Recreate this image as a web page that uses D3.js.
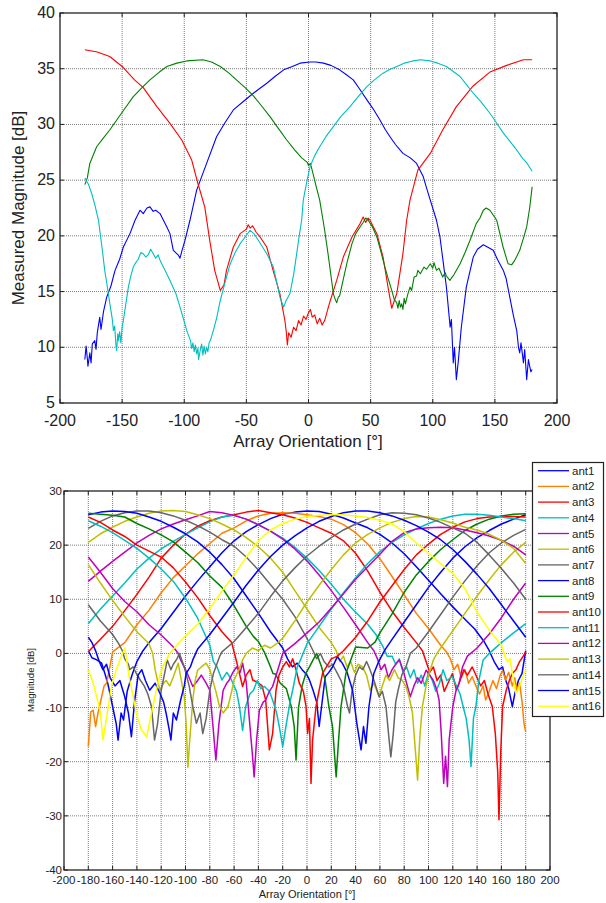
<!DOCTYPE html>
<html><head><meta charset="utf-8">
<script src="https://cdn.jsdelivr.net/npm/d3@7"></script>
<style>body{margin:0;background:#fff;} svg{display:block;font-family:"Liberation Sans",Arial,sans-serif;}</style>
</head><body><svg id="c" width="606" height="903"></svg>
<script>
// ---------- top chart data: [orientation deg, measured dB] ----------
const topXTicks = [-200,-150,-100,-50,0,50,100,150,200];
const topYTicks = [5,10,15,20,25,30,35,40];
const topRed = [[-180,36.7],[-170,36.5],[-160,36.1],[-150,35.2],[-140,34.0],[-133,33.3],[-122,31.6],[-111.5,30.1],[-102,28.6],[-94,26.8],[-89,24.7],[-83.5,22.6],[-79.5,19.6],[-75.5,16.9],[-71,15.1],[-68,15.6],[-66,16.9],[-60.5,19.0],[-55,20.2],[-50,20.6],[-48.5,21.0],[-47,20.7],[-45,20.9],[-42,20.3],[-39,19.9],[-33.6,19.0],[-28.5,16.9],[-23,14.8],[-19,12.4],[-18,11.5],[-17,10.2],[-16,11.3],[-14,10.9],[-12,11.8],[-10,11.5],[-8,12.4],[-6,12.0],[-4,12.8],[-2,12.5],[0,13.1],[1.5,13.4],[3,12.7],[5,12.9],[7,12.1],[9,12.6],[11,12.0],[13,12.4],[17,14.0],[22.7,16.0],[28,18.1],[35,19.9],[41.5,21.1],[44,21.7],[46,21.2],[48,21.6],[49.5,21.4],[55,20.2],[60,18.1],[64,15.4],[67,13.5],[68.5,14.0],[71,14.8],[76,18.4],[79,21.4],[81.7,23.2],[88,25.9],[98,27.4],[108,29.5],[119,31.6],[132,33.4],[146,34.7],[159.5,35.3],[173,35.8],[180,35.8]];
const topGreen = [[-180,24.6],[-178,25.2],[-176,26.5],[-170.5,28],[-165,28.8],[-160,29.5],[-150.5,31],[-141,32.5],[-134,33.3],[-127.6,34],[-120,34.7],[-114,35.2],[-106,35.5],[-98,35.7],[-85,35.8],[-78,35.6],[-71,35.2],[-64,34.6],[-58,34],[-51,33.3],[-44.7,32.6],[-38,31.7],[-31,30.7],[-24,29.6],[-17.5,28.6],[-11,27.7],[-5.5,27],[-1,26.6],[0,26.3],[1.5,26.5],[3.6,25.6],[6,24.5],[9,23.2],[11.7,21.4],[13,20.5],[15.7,18.4],[18,16.5],[20,14.8],[21.5,14.3],[22.7,14.0],[24,14.5],[25,14.6],[27.8,16.0],[31,17.6],[35,19.3],[38,20.2],[41.5,20.8],[44,21.2],[46,21.6],[48,21.4],[51,20.9],[55,19.9],[58,18.7],[61.5,17.2],[64,16.2],[67,15.1],[69,14.3],[71,14.0],[72,13.5],[73,14.2],[74,13.6],[75,13.9],[76,13.4],[77,14.4],[78,13.9],[80,14.8],[81.7,15.4],[83,15.1],[85,16.3],[87,16.4],[88,16.9],[90,16.6],[93,17.2],[95,17.0],[98,17.5],[100,17.1],[101,17.6],[103,16.9],[105,17.1],[108,16.3],[110,16.7],[111,16.4],[113.8,16.0],[115,16.2],[117,16.5],[122,17.5],[126,18.5],[130,19.6],[135,21.1],[138,21.6],[140.7,22.3],[143,22.5],[146,22.3],[151.5,21.4],[156.6,19.0],[160.6,17.5],[163.5,17.4],[166,17.8],[170,18.7],[173,19.8],[175.6,20.8],[178,22.5],[180,24.4]];
const topBlue = [[-180,8.9],[-179,10.1],[-178,9.0],[-177.5,8.3],[-176,9.5],[-175,8.6],[-174,10.3],[-172,10.6],[-171,9.8],[-170,11.3],[-168,12.7],[-167,11.6],[-165,13.2],[-162.4,14.5],[-159,15.5],[-155.7,16.9],[-152,17.9],[-149,19],[-143.7,20.2],[-139.6,21.4],[-135.6,22.3],[-133,22.0],[-130,22.5],[-127.6,22.6],[-125,22.2],[-123,22.3],[-119.5,22],[-114,20.8],[-111.5,20.2],[-108.8,18.7],[-105,18.3],[-103.4,18.0],[-102,18.6],[-99.4,19.6],[-95.4,21.4],[-90,24.1],[-82,26.5],[-74,28.9],[-67,30.2],[-60.5,31.3],[-52,32.1],[-44.4,32.8],[-33.6,33.7],[-27,34.3],[-20,34.9],[-13,35.2],[-6.8,35.5],[1.2,35.6],[6,35.6],[12,35.5],[18,35.3],[25,34.9],[30,34.5],[36,34],[41,33.2],[47,32.2],[52,31.4],[57.5,30.4],[62,29.5],[65.6,28.9],[70,28.2],[76,27.4],[82,27.0],[87,26.5],[92.4,25.3],[95,24.3],[98,23.2],[103,21.4],[105.8,19.9],[108,18],[111,15.4],[114,11.8],[115,12.5],[116.5,8.6],[117.5,10.0],[119,7.1],[120.6,8.8],[123,11.8],[127,15.4],[132.6,18.1],[136,18.8],[140.7,19.2],[144,19.0],[148.7,18.7],[152,17.9],[156.8,16.9],[159,16.2],[162,14.5],[165,12.8],[167.6,11.5],[169,10.0],[170,9.5],[171,10.4],[173,8.6],[174,9.8],[175.6,7.1],[177,8.9],[178,8.3],[179,7.8],[180,8.0]];
const topCyan = [[-180,25.2],[-177,24.6],[-174.5,23.8],[-172,22.8],[-169,21.4],[-168,20.5],[-166,18.8],[-164,16.9],[-162,15.5],[-160,14],[-158,12.6],[-157,11.5],[-156,11.9],[-155,10.2],[-154.4,9.7],[-153.5,11.2],[-153,10.6],[-152,11.4],[-151,10.4],[-150,11.8],[-149,12.4],[-147,13.9],[-145,15.4],[-143,16.4],[-141,17.2],[-139,17.6],[-137,17.9],[-135,18.5],[-133,18.4],[-131,18.1],[-129,18.3],[-127,18.8],[-126,18.6],[-123,18.0],[-121,18.3],[-119.5,17.8],[-115,16.8],[-111.5,16.0],[-107,14.9],[-103.4,13.6],[-100,12.3],[-98,11.5],[-95,10.6],[-94,9.9],[-93,10.4],[-92,9.6],[-91,10.2],[-90,9.4],[-89,9.9],[-88.5,8.9],[-87,9.8],[-86,10.3],[-85,9.3],[-84,10.1],[-83,9.4],[-82,10.0],[-81,9.6],[-80,10.4],[-79,10.6],[-76.6,11.5],[-74,12.6],[-71,14.2],[-67,15.9],[-63,17.5],[-59,18.5],[-55,19.3],[-51,19.9],[-47,20.5],[-44,20.2],[-40.4,19.6],[-37,19.0],[-33.6,18.4],[-28.3,17.2],[-25.5,15.8],[-23,14.5],[-21,13.9],[-20,13.6],[-18,14.2],[-15,14.8],[-12,16.5],[-9.5,18.4],[-7.5,20],[-5.5,21.4],[-4.2,23.2],[-1.5,24.8],[1.2,26.2],[5,27.2],[9,28],[14,28.9],[20,29.8],[26,30.7],[33.4,31.6],[40,32.5],[47,33.4],[53,34],[60,34.6],[65,34.9],[71,35.2],[77,35.5],[84,35.7],[90,35.8],[98,35.7],[104,35.5],[111,35.2],[116,34.8],[122,34.3],[127,33.6],[132.6,32.8],[139,32],[146,31],[151,30.2],[157,29.2],[162,28.5],[167.6,27.7],[172,27],[176,26.5],[180,25.8]];
const topSeries = [topBlue, topRed, topGreen, topCyan];
const topColors = ["#0000ff","#ff0000","#008000","#00bfbf"];

// ---------- bottom chart data: [orientation deg, magnitude dB] ----------
const botXTicks = [-200,-180,-160,-140,-120,-100,-80,-60,-40,-20,0,20,40,60,80,100,120,140,160,180,200];
const botYTicks = [-40,-30,-20,-10,0,10,20,30];
const antNames = ["ant1","ant2","ant3","ant4","ant5","ant6","ant7","ant8","ant9","ant10","ant11","ant12","ant13","ant14","ant15","ant16"];
const antColors = ["#0000ff","#ff8000","#ff0000","#00bfbf","#bf00bf","#bfbf00","#666666","#0000ff","#008000","#ff0000","#00bfbf","#bf00bf","#bfbf00","#666666","#0000ff","#ffff00"];
const ant1 = [[-180,0.5],[-177,-0.8],[-173,-1.2],[-169,-1.8],[-166,-4.0],[-164,-5.5],[-160,-9.8],[-157,-13],[-155.5,-16],[-153,-11],[-151,-12.3],[-148,-7],[-144,-4],[-140,-1.5],[-135,0.5],[-130,2.0],[-120,4.6],[-110,7.6],[-100,10.6],[-90,13.4],[-80,16.0],[-70,18.6],[-60,20.8],[-50,22.5],[-40,23.8],[-30,24.9],[-20,25.7],[-10,26.1],[0,26.3],[10,26.2],[20,25.7],[30,25.0],[40,24.1],[50,23.2],[60,22.0],[70,20.4],[80,18.4],[90,16.0],[100,13.5],[110,11.0],[120,8.6],[130,6.3],[138,4.5],[146,2.1],[150,0.5],[154,-1.5],[158,-3],[161,-2.5],[163.5,-4.9],[166,-6.5],[169,-9.8],[171,-7.5],[174,-5],[177,-3.7],[180,0.5]];
const ant2 = [[-180,-17.2],[-178,-10.8],[-176,-10.5],[-174,-13.5],[-172,-11],[-169,-8],[-167,-6],[-165,-5.5],[-163,-3.4],[-160,0.3],[-150,2.0],[-140,5.3],[-130,8.0],[-120,11.2],[-110,14.0],[-100,16.2],[-90,18.4],[-80,20.3],[-70,22.2],[-60,23.2],[-50,24.5],[-40,25.4],[-30,25.9],[-20,26.0],[-10,25.9],[0,25.6],[10,25.3],[20,24.8],[30,23.8],[40,22.3],[50,20.2],[60,17.5],[70,14.2],[80,10.8],[90,7.4],[100,4.6],[110,1.5],[115,0.2],[118,-1],[121,-3],[124,-2],[127,-4.5],[130,-3],[133,-5.5],[136,-4.3],[139,-6],[142,-7.5],[145,-6],[147,-8.6],[150,-7],[153,-5],[156,-6.5],[159,-4],[161,-3.2],[163.5,-4.9],[166,-3.5],[169,-6],[171,-4.5],[173,-7],[175,-5.5],[177,-9],[178.6,-12.9],[180,-14.5]];
const ant3 = [[-180,0.3],[-170,2.6],[-160,5.0],[-150,7.9],[-140,10.9],[-130,14.1],[-120,17.6],[-110,20.0],[-100,22.0],[-90,23.5],[-80,24.5],[-70,25.2],[-60,25.6],[-50,26.1],[-40,26.4],[-30,26.0],[-20,25.6],[-10,25.0],[0,24.2],[10,23.2],[20,22.2],[30,20.8],[40,18.5],[50,15.2],[60,11.3],[70,7.8],[80,4.8],[90,2.0],[95,0.5],[98,-1.5],[101,-3.5],[104,-2.5],[107,-5],[110,-4],[113,-7],[116,-5.5],[119.7,-3.7],[123,-6.8],[126,-5],[129,-3],[132,-4],[136,-2.5],[140,-4.5],[143,-6],[146,-5],[149,-7.5],[152.5,-9.8],[155,-14.8],[157,-22],[158,-30.7],[159.5,-18],[161,-9.8],[164,-6.8],[166.5,-5],[169,-3.7],[172,-3],[175,-1.5],[178,-0.5],[180,0.3]];
const ant4 = [[-180,5.5],[-170,8.2],[-160,10.6],[-150,13.0],[-140,15.6],[-130,17.6],[-120,19.3],[-110,20.7],[-100,22.0],[-90,23.2],[-80,24.3],[-70,25.2],[-60,25.5],[-50,24.8],[-40,23.7],[-30,22.6],[-20,21.3],[-10,19.6],[0,17.6],[10,15.3],[20,12.8],[30,10.0],[40,7.6],[50,5.4],[57,3.4],[62,1.5],[66,-0.5],[70,-0.5],[73,-2],[76,-1],[79,-3.5],[82,-2.5],[85,-4.5],[88,-3],[91,-5.5],[94,-4],[97,-6],[100,-3.5],[103,-4.9],[106,-7],[109,-5.5],[112,-3],[115,-5],[119.7,-4.3],[123,-6],[126,-7.5],[128.5,-9.8],[131,-12],[133.4,-16],[135,-20.9],[137,-12],[139,-9.8],[141.6,-4.9],[145,-1.2],[150,0],[160,2.0],[170,3.8],[180,5.5]];
const ant5 = [[-180,13.3],[-170,15.2],[-160,17.0],[-150,18.7],[-140,20.4],[-130,21.8],[-120,23.0],[-110,23.9],[-100,24.7],[-90,25.4],[-80,26.2],[-70,26.0],[-60,25.5],[-50,24.8],[-40,23.8],[-30,22.6],[-20,21.1],[-10,19.3],[0,17.1],[10,14.5],[20,11.6],[30,8.5],[40,5.3],[50,2.0],[55,0.5],[58,-1],[61,-3],[64,-2],[67,-4.5],[70,-3],[73,-2],[76,-1.2],[79,-3],[82,-5.5],[85,-8],[88,-6],[91,-4.5],[94,-5.5],[98,-3.1],[101,-4],[104,-5],[106.5,-6.5],[108.7,-8.6],[110.5,-14.8],[112.5,-24],[114,-19],[115.6,-24.6],[117,-16],[120,-9.8],[122.5,-7],[125.2,-5.5],[128,-2.5],[132,-0.5],[140,1.0],[150,3.6],[160,6.6],[170,10.0],[180,13.0]];
const ant6 = [[-180,20.5],[-170,22.1],[-160,23.3],[-150,24.4],[-140,25.2],[-130,25.9],[-120,26.3],[-110,26.4],[-100,26.2],[-90,25.6],[-80,24.9],[-70,23.9],[-60,22.8],[-50,21.4],[-40,19.7],[-30,17.6],[-20,15.0],[-10,11.6],[0,8.2],[10,4.8],[20,2.0],[24,0.5],[27,-1.5],[30,-0.5],[33,-2.5],[36,-1.5],[39,-3.5],[42,-2],[45.7,-2.5],[49,-4],[52,-6.8],[55,-5.5],[59.4,-8],[62,-6],[65,-4],[68,-5],[72,-3],[75,-4.5],[78,-4.9],[81.4,-6.1],[84,-8],[86.8,-11],[89.6,-19.1],[91,-23.4],[93,-15],[95,-9.8],[98,-6],[100.5,-3.7],[104,-1.2],[107,0],[110,1.0],[120,4.2],[130,7.4],[140,10.6],[150,13.6],[160,16.4],[170,18.7],[180,20.5]];
const ant7 = [[-180,23.1],[-170,24.4],[-160,25.4],[-150,26.0],[-140,26.3],[-130,26.3],[-120,26.0],[-110,25.4],[-100,24.6],[-90,23.6],[-80,22.4],[-70,21.0],[-60,19.8],[-50,17.8],[-40,15.4],[-30,12.7],[-20,10.0],[-10,6.8],[0,2.8],[5,0.5],[8,-1],[11,0],[14,-1.5],[18,-2.5],[21,-2],[25,-3.7],[28,-5],[30.6,-6.8],[33.4,-9.8],[35,-11],[37,-7],[40,-4],[43,-2.5],[46,-3],[49,-1.5],[51,-2.5],[55,-4.9],[59.4,-8],[62,-7],[65,-9.8],[67.6,-16],[69,-19.1],[71,-14.8],[73,-9],[75,-6.8],[78,-4],[81.4,-2.5],[85,0],[90,1.0],[100,4.0],[110,7.2],[120,10.4],[130,13.4],[140,16.2],[150,18.6],[160,20.4],[170,21.8],[180,22.9]];
const ant8 = [[-180,25.6],[-170,26.1],[-160,26.3],[-150,26.2],[-140,25.9],[-130,25.2],[-120,24.4],[-110,23.3],[-100,22.1],[-90,20.6],[-80,18.7],[-70,16.4],[-60,13.8],[-50,10.6],[-40,7.4],[-30,4.0],[-20,1.0],[-16,-1],[-12,-2.5],[-8,-1.8],[-4,-3],[0,-4],[2,-4.9],[5,-6.8],[8,-9],[10,-13.5],[12,-9.8],[15,-4.3],[18,-3.5],[21,-2.5],[25,-0.6],[29,-1.8],[33,-3.5],[37.5,-6.8],[41,-12.9],[44.5,-17.8],[46.5,-13.5],[48.5,-16.6],[51,-9.8],[55,-3.7],[59,-1.5],[64,0.6],[70,2.6],[80,5.8],[90,9.0],[100,12.2],[110,15.0],[120,17.6],[130,19.7],[140,21.4],[150,22.7],[160,23.9],[170,24.8],[180,25.6]];
const ant9 = [[-180,25.9],[-170,25.7],[-160,25.5],[-150,25.2],[-140,24.0],[-130,23.0],[-120,21.9],[-110,20.6],[-100,18.7],[-90,16.8],[-80,14.3],[-70,12.2],[-60,8.8],[-50,5.0],[-44,3.1],[-40,2.2],[-35,0.2],[-30,-2.5],[-28,-3.7],[-26,-3.8],[-22,-5.5],[-17,-6.5],[-13,-9.8],[-10.5,-13.5],[-9,-19.7],[-7,-10],[-4,-6],[-1,-3.7],[2,-2.5],[5,-1.2],[8,0],[12,-2.5],[15,-5],[18,-9.8],[21,-13.5],[24,-22.8],[26,-16],[28,-9.8],[32,-3.7],[36,-1.2],[40,1.2],[50,1.0],[56,2.1],[60,3.8],[70,7.3],[80,11.3],[90,14.5],[100,17.0],[110,19.2],[120,21.0],[130,22.7],[140,23.9],[150,24.8],[160,25.4],[170,25.7],[180,25.8]];
const ant10 = [[-180,25.2],[-170,24.2],[-160,22.8],[-150,21.6],[-140,20.0],[-130,18.9],[-120,17.8],[-110,15.8],[-100,13.2],[-90,10.3],[-80,7.0],[-70,4.0],[-62,2.0],[-58,-1.5],[-55.6,-3.7],[-53,-6.1],[-50,-4],[-47,-3],[-44.7,-4.9],[-41,-5.3],[-37,-6],[-34,-8.6],[-32.4,-13.5],[-31,-17.8],[-28.3,-14.8],[-25.5,-6.8],[-23,-4],[-20,-2.5],[-17,-1.5],[-14.5,-2.5],[-11.8,-1],[-9,-3],[-6.3,-5.5],[-3,-7],[-0.8,-9.8],[0.5,-14.8],[2,-12],[3.3,-24],[4.6,-16],[7.4,-9.8],[10,-6.8],[12.8,-3.7],[16,-2.5],[20,-1],[25,-0.5],[30,0.5],[40,3.0],[50,6.0],[60,9.5],[70,12.5],[80,15.5],[90,18.2],[100,20.2],[110,22.0],[120,23.3],[130,24.3],[140,24.9],[150,25.2],[160,25.3],[170,25.3],[180,25.2]];
const ant11 = [[-180,24.5],[-170,23.5],[-160,22.3],[-150,20.9],[-140,19.4],[-130,17.6],[-120,15.6],[-110,13.3],[-100,10.2],[-90,6.5],[-85,4.0],[-80,1.5],[-77,-1.5],[-74,-2.5],[-70,-4.9],[-66,-3.5],[-63,-4.5],[-61,-5.5],[-58,-7],[-55.6,-9.8],[-53,-14.2],[-50.5,-9.8],[-47,-7.5],[-44,-6.8],[-41,-5],[-38,-6.5],[-35,-6.1],[-31,-7],[-28.3,-8.6],[-25,-11],[-22.8,-13.5],[-20,-17.2],[-17,-13],[-14,-9],[-11.8,-6.8],[-8,-2.5],[-5,-1],[0,1.8],[10,5.0],[20,8.2],[30,11.2],[40,14.0],[50,16.6],[60,18.8],[70,20.5],[80,21.9],[90,23.0],[100,24.0],[110,24.8],[120,25.4],[130,25.7],[140,25.7],[150,25.5],[160,25.2],[170,24.9],[180,24.5]];
const ant12 = [[-180,17.8],[-170,15.0],[-160,12.0],[-150,9.6],[-140,7.7],[-130,5.3],[-120,3.4],[-110,1.2],[-106,0],[-104,-1.2],[-100,-3],[-97,-4.5],[-94,-6.1],[-90,-5],[-87,-4],[-83,-5.5],[-80,-6.8],[-77.6,-12.9],[-75,-19.7],[-72.5,-13],[-69,-6.8],[-66,-5.5],[-64,-4.9],[-61,-3.5],[-58,-2.5],[-55,-3.5],[-53,-1.8],[-50,-5.3],[-47.4,-12.3],[-45,-18.5],[-43.5,-22.8],[-41.5,-16],[-39.2,-10.5],[-36,-9],[-34,-8.6],[-31,-7],[-28.3,-6.1],[-24,-3],[-20,0],[-10,1.8],[0,3.8],[10,5.8],[20,8.4],[30,11.0],[40,13.7],[50,16.0],[60,18.3],[70,20.7],[80,22.3],[90,23.0],[100,23.2],[110,23.3],[120,23.2],[130,22.8],[140,22.3],[150,21.7],[160,20.9],[170,19.8],[180,18.2]];
const ant13 = [[-180,16.4],[-170,13.0],[-160,9.8],[-150,6.8],[-140,4.0],[-130,1.8],[-127,0],[-125,-3],[-123,-5],[-121,-6.8],[-118,-5.5],[-116,-5],[-113,-6],[-110,-4.3],[-106,-1.8],[-103.5,-4.9],[-101,-8],[-99.5,-12.9],[-98,-21],[-96.5,-16],[-94,-8.6],[-92,-5],[-90,-3.1],[-87,-2.5],[-83,-1.8],[-80,-3],[-77.6,-4.9],[-75,-7],[-72,-9.8],[-69,-11],[-65,-9.8],[-62,-7],[-60,-4.9],[-56,-3],[-53,-1.2],[-50,0],[-45,1],[-40,0.5],[-35,1.5],[-30,1.0],[-25,1.8],[-20,2.8],[-10,6.0],[0,9.5],[10,12.6],[20,15.5],[30,18.2],[40,20.4],[50,22.0],[60,23.2],[70,24.2],[80,24.9],[90,25.3],[100,25.2],[110,24.7],[120,24.1],[130,23.3],[140,22.8],[150,22.0],[160,20.9],[170,19.4],[180,16.6]];
const ant14 = [[-180,9.0],[-170,6.0],[-160,3.5],[-155,1.8],[-152,0.5],[-150,-1],[-147,-2],[-146,-3],[-143,-2.5],[-140.5,-3.7],[-137,-5],[-134,-6],[-131,-7.5],[-128,-9.8],[-125.5,-16],[-123,-13],[-120,-6.8],[-117,-3.5],[-115,-1.2],[-112,-3],[-110,-2],[-107,-1],[-105,0],[-101,-2.5],[-97,-6],[-94,-9.8],[-91,-12.9],[-88,-11],[-85.8,-14.8],[-83,-12],[-80,-6.8],[-77,-3.7],[-72,-0.6],[-70,0.3],[-60,2.2],[-50,4.8],[-40,7.4],[-30,10.5],[-20,13.4],[-10,15.8],[0,18.0],[10,19.8],[20,21.4],[30,22.8],[40,23.9],[50,24.8],[60,25.6],[70,26.0],[80,25.9],[90,25.6],[100,25.0],[110,24.2],[120,23.2],[130,22.2],[140,20.5],[150,18.2],[160,15.7],[170,13.0],[180,10.0]];
const ant15 = [[-180,3.0],[-177,2],[-174,0.5],[-171,-1.5],[-168,-3],[-165,-2],[-162,-4.5],[-158,-6],[-154,-5],[-150,-8],[-147,-11],[-144.5,-15.4],[-142,-9],[-139,-4],[-136,-3],[-133,-5],[-129.5,-6.8],[-125,-5.5],[-121,-7.4],[-118,-9],[-116,-11],[-113.5,-14],[-112,-16],[-110,-11],[-107.5,-12.3],[-104,-8.6],[-101,-6],[-99.5,-3.7],[-96,-2.5],[-94,-1.2],[-90,0.8],[-80,3.5],[-70,6.5],[-60,9.5],[-50,12.6],[-40,15.4],[-30,17.9],[-20,20.0],[-10,21.7],[0,23.2],[10,24.4],[20,25.3],[30,26.0],[40,26.3],[50,26.3],[60,26.0],[70,25.4],[80,24.6],[90,23.6],[100,22.4],[110,21.0],[120,19.2],[130,17.0],[140,14.6],[150,12.0],[160,9.0],[170,6.0],[180,3.0]];
const ant16 = [[-180,-3],[-176,-5.5],[-172,-9],[-170,-11],[-168,-16],[-165,-12],[-161,-6],[-157,-3],[-154,-1.2],[-150,1],[-146,-4.9],[-143,-8],[-140.5,-11],[-136.5,-14],[-132,-15.4],[-128,-11],[-124,-6.8],[-121,-4],[-118.7,-2.5],[-113,0],[-110,0.8],[-100,3.2],[-90,5.4],[-80,8.3],[-70,11.5],[-60,14.5],[-50,17.8],[-40,20.8],[-30,22.8],[-20,24.0],[-10,24.8],[0,25.3],[10,25.5],[20,25.6],[30,25.6],[40,25.4],[50,25.1],[60,24.6],[70,23.9],[80,22.5],[90,20.4],[100,18.5],[110,16.6],[120,14.8],[130,12.0],[140,7.6],[150,4.3],[160,1.5],[163,-0.5],[165,-1.5],[167,-1],[169,-3.7],[172,-7.4],[175,-6],[178.6,-3.7],[180,-3]];
const antSeries = [ant1,ant2,ant3,ant4,ant5,ant6,ant7,ant8,ant9,ant10,ant11,ant12,ant13,ant14,ant15,ant16];

// ---------- drawing ----------
const svg = d3.select("#c");

function panel(x, y, xTicks, yTicks){
  const g = svg.append("g");
  const [x0,x1] = x.range(), y0 = y.range()[1], y1 = y.range()[0];
  g.selectAll(".gx").data(xTicks.slice(1,-1)).join("line")
    .attr("x1",d=>x(d)).attr("x2",d=>x(d)).attr("y1",y0).attr("y2",y1)
    .attr("stroke","#6e6e6e").attr("stroke-width",0.9).attr("stroke-dasharray","1,1");
  g.selectAll(".gy").data(yTicks.slice(1,-1)).join("line")
    .attr("y1",d=>y(d)).attr("y2",d=>y(d)).attr("x1",x0).attr("x2",x1)
    .attr("stroke","#6e6e6e").attr("stroke-width",0.9).attr("stroke-dasharray","1,1");
  return g;
}
function frame(g, x, y, xTicks, yTicks){
  const [x0,x1] = x.range(), y0 = y.range()[1], y1 = y.range()[0];
  const t = 4;
  g.append("rect").attr("x",x0).attr("y",y0).attr("width",x1-x0).attr("height",y1-y0)
    .attr("fill","none").attr("stroke","#222").attr("stroke-width",1.3);
  xTicks.forEach(d=>{
    g.append("line").attr("x1",x(d)).attr("x2",x(d)).attr("y1",y1).attr("y2",y1-t).attr("stroke","#222");
    g.append("line").attr("x1",x(d)).attr("x2",x(d)).attr("y1",y0).attr("y2",y0+t).attr("stroke","#222");
  });
  yTicks.forEach(d=>{
    g.append("line").attr("y1",y(d)).attr("y2",y(d)).attr("x1",x0).attr("x2",x0+t).attr("stroke","#222");
    g.append("line").attr("y1",y(d)).attr("y2",y(d)).attr("x1",x1).attr("x2",x1-t).attr("stroke","#222");
  });
}

// ===== top =====
const xT = d3.scaleLinear().domain([-200,200]).range([60,557]);
const yT = d3.scaleLinear().domain([5,40]).range([403,13]);
const gT = panel(xT, yT, topXTicks, topYTicks);
const lineT = d3.line().x(d=>xT(d[0])).y(d=>yT(d[1]));
topSeries.forEach((s,i)=>{
  gT.append("path").attr("d",lineT(d3.sort(s,d=>d[0]))).attr("fill","none")
    .attr("stroke",topColors[i]).attr("stroke-width",1.1).attr("stroke-linejoin","round");
});
frame(gT, xT, yT, topXTicks, topYTicks);
gT.selectAll(".tx").data(topXTicks).join("text").attr("x",d=>xT(d)).attr("y",426)
  .attr("text-anchor","middle").attr("font-size",16).attr("fill","#222").text(d=>d);
gT.selectAll(".ty").data(topYTicks).join("text").attr("x",55).attr("y",d=>yT(d)+5)
  .attr("text-anchor","end").attr("font-size",16).attr("fill","#222").text(d=>d);
gT.append("text").attr("x",308).attr("y",447).attr("text-anchor","middle").attr("font-size",17).attr("fill","#222").text("Array Orientation [°]");
gT.append("text").attr("transform","translate(24,208) rotate(-90)").attr("text-anchor","middle").attr("font-size",17).attr("fill","#222").text("Measured Magnitude [dB]");

// ===== bottom =====
const xB = d3.scaleLinear().domain([-200,200]).range([64,550]);
const yB = d3.scaleLinear().domain([-40,30]).range([870,491]);
const gB = panel(xB, yB, botXTicks, botYTicks);
const lineB = d3.line().x(d=>xB(d[0])).y(d=>yB(d[1]));
antSeries.forEach((s,i)=>{
  gB.append("path").attr("d",lineB(d3.sort(s,d=>d[0]))).attr("fill","none")
    .attr("stroke",antColors[i]).attr("stroke-width",1.5).attr("stroke-linejoin","round");
});
frame(gB, xB, yB, botXTicks, botYTicks);
gB.selectAll(".tx").data(botXTicks).join("text").attr("x",d=>xB(d)).attr("y",884)
  .attr("text-anchor","middle").attr("font-size",11.5).attr("fill","#222").text(d=>d);
gB.selectAll(".ty").data(botYTicks).join("text").attr("x",62).attr("y",d=>yB(d)+4)
  .attr("text-anchor","end").attr("font-size",11.5).attr("fill","#222").text(d=>d);
gB.append("text").attr("x",307).attr("y",898).attr("text-anchor","middle").attr("font-size",11).attr("fill","#222").text("Array Orientation [°]");
gB.append("text").attr("transform","translate(34,680) rotate(-90)").attr("text-anchor","middle").attr("font-size",9.5).attr("fill","#222").text("Magnitude [dB]");

// legend
const lg = svg.append("g");
lg.append("rect").attr("x",532.5).attr("y",462.5).attr("width",71).attr("height",254)
  .attr("fill","#fff").attr("stroke","#222").attr("stroke-width",1.2);
antNames.forEach((n,i)=>{
  const yy = 470.7 + 15.7*i;
  lg.append("line").attr("x1",538).attr("x2",569).attr("y1",yy).attr("y2",yy).attr("stroke",antColors[i]).attr("stroke-width",1.3);
  lg.append("text").attr("x",572).attr("y",yy+4).attr("font-size",11.5).attr("fill","#222").text(n);
});
</script></body></html>
